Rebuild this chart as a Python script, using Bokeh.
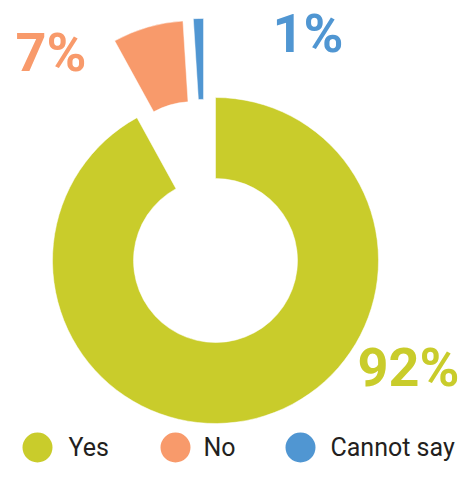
import math
from bokeh.plotting import figure
from bokeh.models import Range1d, ColumnDataSource
from bokeh.embed import file_html
from bokeh.resources import INLINE
from bokeh.core.properties import value

# ---- data ----
categories = ["Yes", "No", "Cannot say"]
shares = [92, 7, 1]
share_labels = ["92%", "7%", "1%"]

# ---- style ----
colors = ["#c9cc2b", "#f89a6b", "#5096d2"]
W, H = 459, 463
cx, cy = 215, -260          # donut centre (px, y flipped)
r_out, r_in = 163, 82
explode = [0, 80, 80]
explode_turn = [0, 0, 6.8]  # degrees
label_x = [357, 15, 272]
label_mid = [367, 52, 33]
legend_dot_x = [37, 175, 300]
legend_text_x = [68, 203, 330]
legend_mid = 447

p = figure(width=W, height=H, x_range=Range1d(0, W), y_range=Range1d(-H, 0),
           output_backend="svg", toolbar_location=None, min_border=0)
p.axis.visible = False
p.grid.visible = False
p.outline_line_color = None

total = float(sum(shares))
cum = 0.0
xs, ys, starts, ends = [], [], [], []
for s, d, t in zip(shares, explode, explode_turn):
    a0 = math.pi / 2 - 2 * math.pi * cum / total
    cum += s
    a1 = math.pi / 2 - 2 * math.pi * cum / total
    mid = (a0 + a1) / 2 + math.radians(t)
    xs.append(cx + d * math.cos(mid))
    ys.append(cy + d * math.sin(mid))
    starts.append(a0)
    ends.append(a1)

src = ColumnDataSource(dict(x=xs, y=ys, start=starts, end=ends, color=colors, cat=categories))
p.annular_wedge(x="x", y="y", inner_radius=r_in, outer_radius=r_out,
                start_angle="start", end_angle="end", direction="clock",
                fill_color="color", line_color="white", line_width=0.5, source=src)

lsrc = ColumnDataSource(dict(x=label_x, y=[-b for b in label_mid], text=share_labels, color=colors))
p.text(x="x", y="y", text="text", text_color="color", text_font=value("Roboto"),
       text_font_style="bold", text_font_size="54px", text_align="left",
       text_baseline="middle", source=lsrc)

gsrc = ColumnDataSource(dict(x=legend_dot_x, y=[-legend_mid] * 3, color=colors))
p.scatter(x="x", y="y", size=30, marker="circle", fill_color="color", line_color=None, source=gsrc)
tsrc = ColumnDataSource(dict(x=legend_text_x, y=[-legend_mid] * 3, text=categories))
p.text(x="x", y="y", text="text", text_color="#231f20", text_font=value("Roboto"),
       text_font_size="25px", text_align="left", text_baseline="middle", source=tsrc)

open("out.html", "w").write(file_html(p, INLINE))
